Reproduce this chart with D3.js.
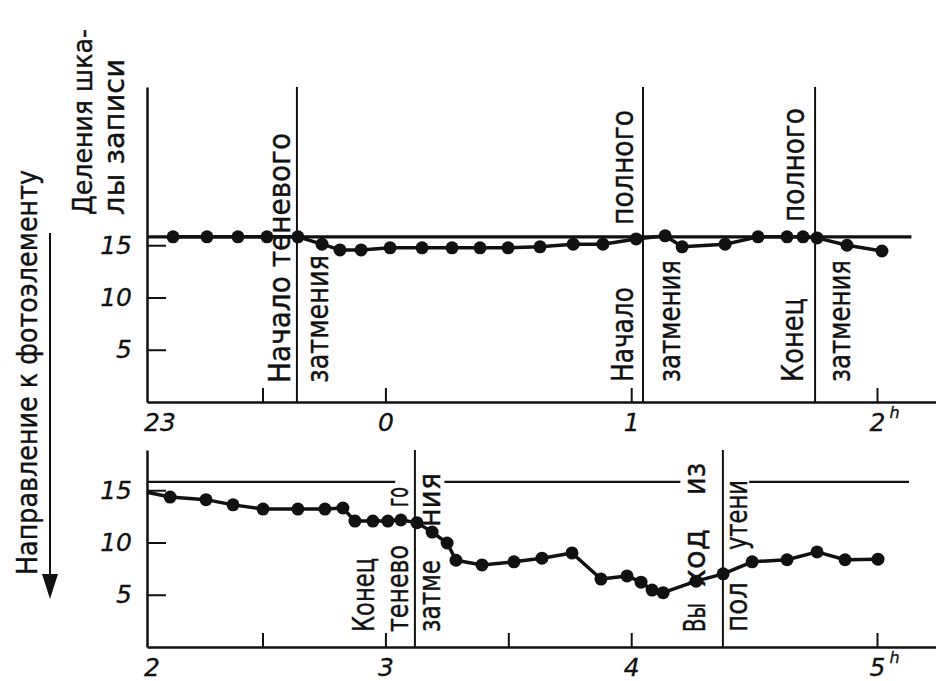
<!DOCTYPE html>
<html>
<head>
<meta charset="utf-8">
<script src="https://cdn.jsdelivr.net/npm/d3@7"></script>
<style>
  body { margin: 0; background: #fff; }
  svg { display: block; }
</style>
</head>
<body>
<div id="chart"></div>
<script>
// ---- data ----
// top strip: hours counted from midnight, 23h written as -1
const topHours = [-0.864, -0.726, -0.600, -0.482, -0.356, -0.258, -0.185, -0.099, 0.019, 0.149,
  0.271, 0.385, 0.499, 0.629, 0.764, 0.885, 1.020, 1.138, 1.207, 1.382, 1.516, 1.634, 1.699, 1.756, 1.878, 2.020]
const topValues = [15.8, 15.8, 15.8, 15.8, 15.8, 15.1, 14.55, 14.55, 14.75, 14.75,
  14.75, 14.75, 14.75, 14.85, 15.1, 15.1, 15.6, 15.9, 14.85, 15.1, 15.8, 15.8, 15.8, 15.7, 15.0, 14.45]

// bottom strip: 2h .. 5h (first point has no dot, the curve starts on the axis)
const bottomHours = [2.030, 2.124, 2.270, 2.380, 2.502, 2.644, 2.754, 2.827, 2.876, 2.949, 3.010,
  3.063, 3.128, 3.190, 3.251, 3.287, 3.393, 3.523, 3.637, 3.759, 3.877, 3.983, 4.040, 4.085,
  4.130, 4.264, 4.374, 4.492, 4.634, 4.756, 4.870, 5.004]
const bottomValues = [14.8, 14.35, 14.1, 13.6, 13.2, 13.2, 13.2, 13.3, 12.05, 12.05, 12.05,
  12.15, 11.9, 11.0, 9.95, 8.3, 7.85, 8.15, 8.5, 9.0, 6.5, 6.8, 6.2, 5.45,
  5.2, 6.3, 7.0, 8.15, 8.35, 9.1, 8.35, 8.4]

// level before the eclipse and where that line is drawn (gaps around the notes)
const refLevel = 15.8
const topRefSpans = [[-0.97, 2.14]]
const bottomRefSpans = [[2.03, 3.04], [3.24, 4.2], [4.48, 5.13]]

// eclipse contacts
const topEvents = [-0.36, 1.048, 1.748]
const bottomEvents = [3.12, 4.373]

const topTicks = [-0.5, 0, 1, 2]
const bottomTicks = [2.5, 3, 3.5, 4, 5]
const yTicks = [5, 10, 15]

// notes next to the contact lines: ev = index of contact, dx = offset from line,
// from = value where the (vertical) text starts, len = its length
const topNotes = [
  {ev: 0, text: "Начало теневого", dx: -7, from: 1.82, len: 250},
  {ev: 0, text: "затмения", dx: 31, from: 1.82, len: 128},
  {ev: 1, text: "Начало", dx: -10, from: 1.91, len: 95},
  {ev: 1, text: "полного", dx: -10, from: 16.94, len: 115},
  {ev: 1, text: "затмения", dx: 37, from: 1.91, len: 122},
  {ev: 2, text: "Конец", dx: -12, from: 1.91, len: 84},
  {ev: 2, text: "полного", dx: -11, from: 17.22, len: 114},
  {ev: 2, text: "затмения", dx: 35, from: 1.91, len: 122},
]
const bottomNotes = [
  {ev: 0, text: "Конец", dx: -41, from: 1.44, len: 74},
  {ev: 0, text: "тенево", dx: -7, from: 1.44, len: 87},
  {ev: 0, text: "го", dx: -7, from: 13.4, len: 20},
  {ev: 0, text: "затме", dx: 25, from: 1.44, len: 72},
  {ev: 0, text: "ния", dx: 25, from: 11.48, len: 54},
  {ev: 1, text: "Вы", dx: -18, from: 1.44, len: 29},
  {ev: 1, text: "ход", dx: -18, from: 5.74, len: 58},
  {ev: 1, text: "из", dx: -18, from: 14.55, len: 32},
  {ev: 1, text: "пол", dx: 24, from: 1.44, len: 50},
  {ev: 1, text: "утени", dx: 24, from: 9.28, len: 70},
]

// ---- layout ----
const width = 936, height = 681
const labelFont = "'DejaVu Sans', 'Liberation Sans', sans-serif"
const ink = "#111"

const svg = d3.select("#chart")
  .append("svg")
  .attr("width", width)
  .attr("height", height)
  .attr("viewBox", `0 0 ${width} ${height}`)

svg.append("rect").attr("width", width).attr("height", height).attr("fill", "#fff")

// text written bottom-to-top, baseline on its right side
const vText = (g, x, y, text, len, size) => {
  g.append("text")
    .attr("transform", `translate(${x},${y}) rotate(-90)`)
    .attr("font-family", labelFont)
    .attr("font-size", size)
    .attr("textLength", len)
    .attr("lengthAdjust", "spacingAndGlyphs")
    .attr("fill", ink)
    .attr("stroke", ink)
    .attr("stroke-width", 0.4)
    .text(text)
}

const styleNum = (sel, size) => sel
  .attr("font-family", labelFont)
  .attr("font-style", "italic")
  .attr("font-size", size)
  .attr("fill", ink)
  .attr("stroke", ink)
  .attr("stroke-width", 0.3)

const drawPanel = (p) => {
  const g = svg.append("g")

  const x = d3.scaleLinear().domain(p.xDomain).range([147, 936])
  const y = d3.scaleLinear().domain(p.yDomain).range(p.yRange)

  // contact lines
  g.selectAll(".event")
    .data(p.events)
    .join("line")
    .attr("x1", d => x(d)).attr("x2", d => x(d))
    .attr("y1", y(0)).attr("y2", y(p.yDomain[1]))
    .attr("stroke", ink)
    .attr("stroke-width", 2)

  // notes
  p.notes.forEach(n => vText(g, x(p.events[n.ev]) + n.dx, y(n.from), n.text, n.len, 30))

  // pre-eclipse level
  g.selectAll(".ref")
    .data(p.refSpans)
    .join("line")
    .attr("x1", d => x(d[0])).attr("x2", d => x(d[1]))
    .attr("y1", y(refLevel)).attr("y2", y(refLevel))
    .attr("stroke", ink)
    .attr("stroke-width", p.refWidth)

  // X axis
  const xAxis = g.append("g")
    .attr("transform", `translate(0, ${y(0)})`)
    .call(d3.axisBottom(x)
      .tickValues(p.ticks)
      .tickSize(-14)
      .tickSizeOuter(0)
      .tickPadding(11)
      .tickFormat(d => Number.isInteger(d) && d !== p.firstHour ? d : ""))
  xAxis.select(".domain").attr("stroke", ink).attr("stroke-width", 2.5)
  xAxis.selectAll(".tick line").attr("stroke", ink).attr("stroke-width", 2)
  styleNum(xAxis.selectAll(".tick text"), 25)
  styleNum(xAxis.selectAll(".tick").filter(d => d === p.ticks[p.ticks.length - 1])
    .append("text")
    .attr("x", 12).attr("y", 16)
    .attr("text-anchor", "start")
    .text("h"), 16)
  styleNum(xAxis.append("text")
    .attr("x", x(p.xDomain[0]) - 3).attr("y", 11).attr("dy", "0.71em")
    .attr("text-anchor", "start")
    .text(p.firstLabel), 25)

  // Y axis
  const yAxis = g.append("g")
    .attr("transform", `translate(147, 0)`)
    .call(d3.axisLeft(y)
      .tickValues(yTicks)
      .tickSize(-19)
      .tickSizeOuter(0)
      .tickPadding(15))
  yAxis.select(".domain").attr("stroke", ink).attr("stroke-width", 2.5)
  yAxis.selectAll(".tick line").attr("stroke", ink).attr("stroke-width", 2)
  styleNum(yAxis.selectAll(".tick text"), 25)

  // the record
  const pts = p.hours.map((h, i) => ({h: h, v: p.values[i]}))
  g.append("path")
    .datum(pts)
    .attr("fill", "none")
    .attr("stroke", ink)
    .attr("stroke-width", 3.5)
    .attr("stroke-linejoin", "round")
    .attr("d", d3.line()
      .x(d => x(d.h))
      .y(d => y(d.v)))

  g.selectAll(".dot")
    .data(pts.slice(p.skipFirstDot ? 1 : 0))
    .join("circle")
    .attr("cx", d => x(d.h))
    .attr("cy", d => y(d.v))
    .attr("r", 6.5)
    .attr("fill", ink)
}

drawPanel({
  xDomain: [-0.97, 2.24], yDomain: [0, 30.14], yRange: [402, 87],
  hours: topHours, values: topValues, events: topEvents, notes: topNotes,
  refSpans: topRefSpans, refWidth: 3.2, ticks: topTicks, firstHour: -1, firstLabel: "23",
  skipFirstDot: false,
})

drawPanel({
  xDomain: [2.03, 5.24], yDomain: [0, 18.85], yRange: [647, 450],
  hours: bottomHours, values: bottomValues, events: bottomEvents, notes: bottomNotes,
  refSpans: bottomRefSpans, refWidth: 2.2, ticks: bottomTicks, firstHour: 2, firstLabel: "2",
  skipFirstDot: true,
})

// axis titles
const titles = svg.append("g")
vText(titles, 92, 215, "Деления шка-", 186, 27)
vText(titles, 124, 215, "лы записи", 156, 28)
vText(titles, 37, 575, "Направление к фотоэлементу", 405, 28)

// arrow towards the photocell
titles.append("line")
  .attr("x1", 50).attr("x2", 50)
  .attr("y1", 233).attr("y2", 580)
  .attr("stroke", ink).attr("stroke-width", 2)
titles.append("path")
  .attr("d", d3.line()([[42, 574], [58, 574], [50, 599]]))
  .attr("fill", ink)
</script>
</body>
</html>
